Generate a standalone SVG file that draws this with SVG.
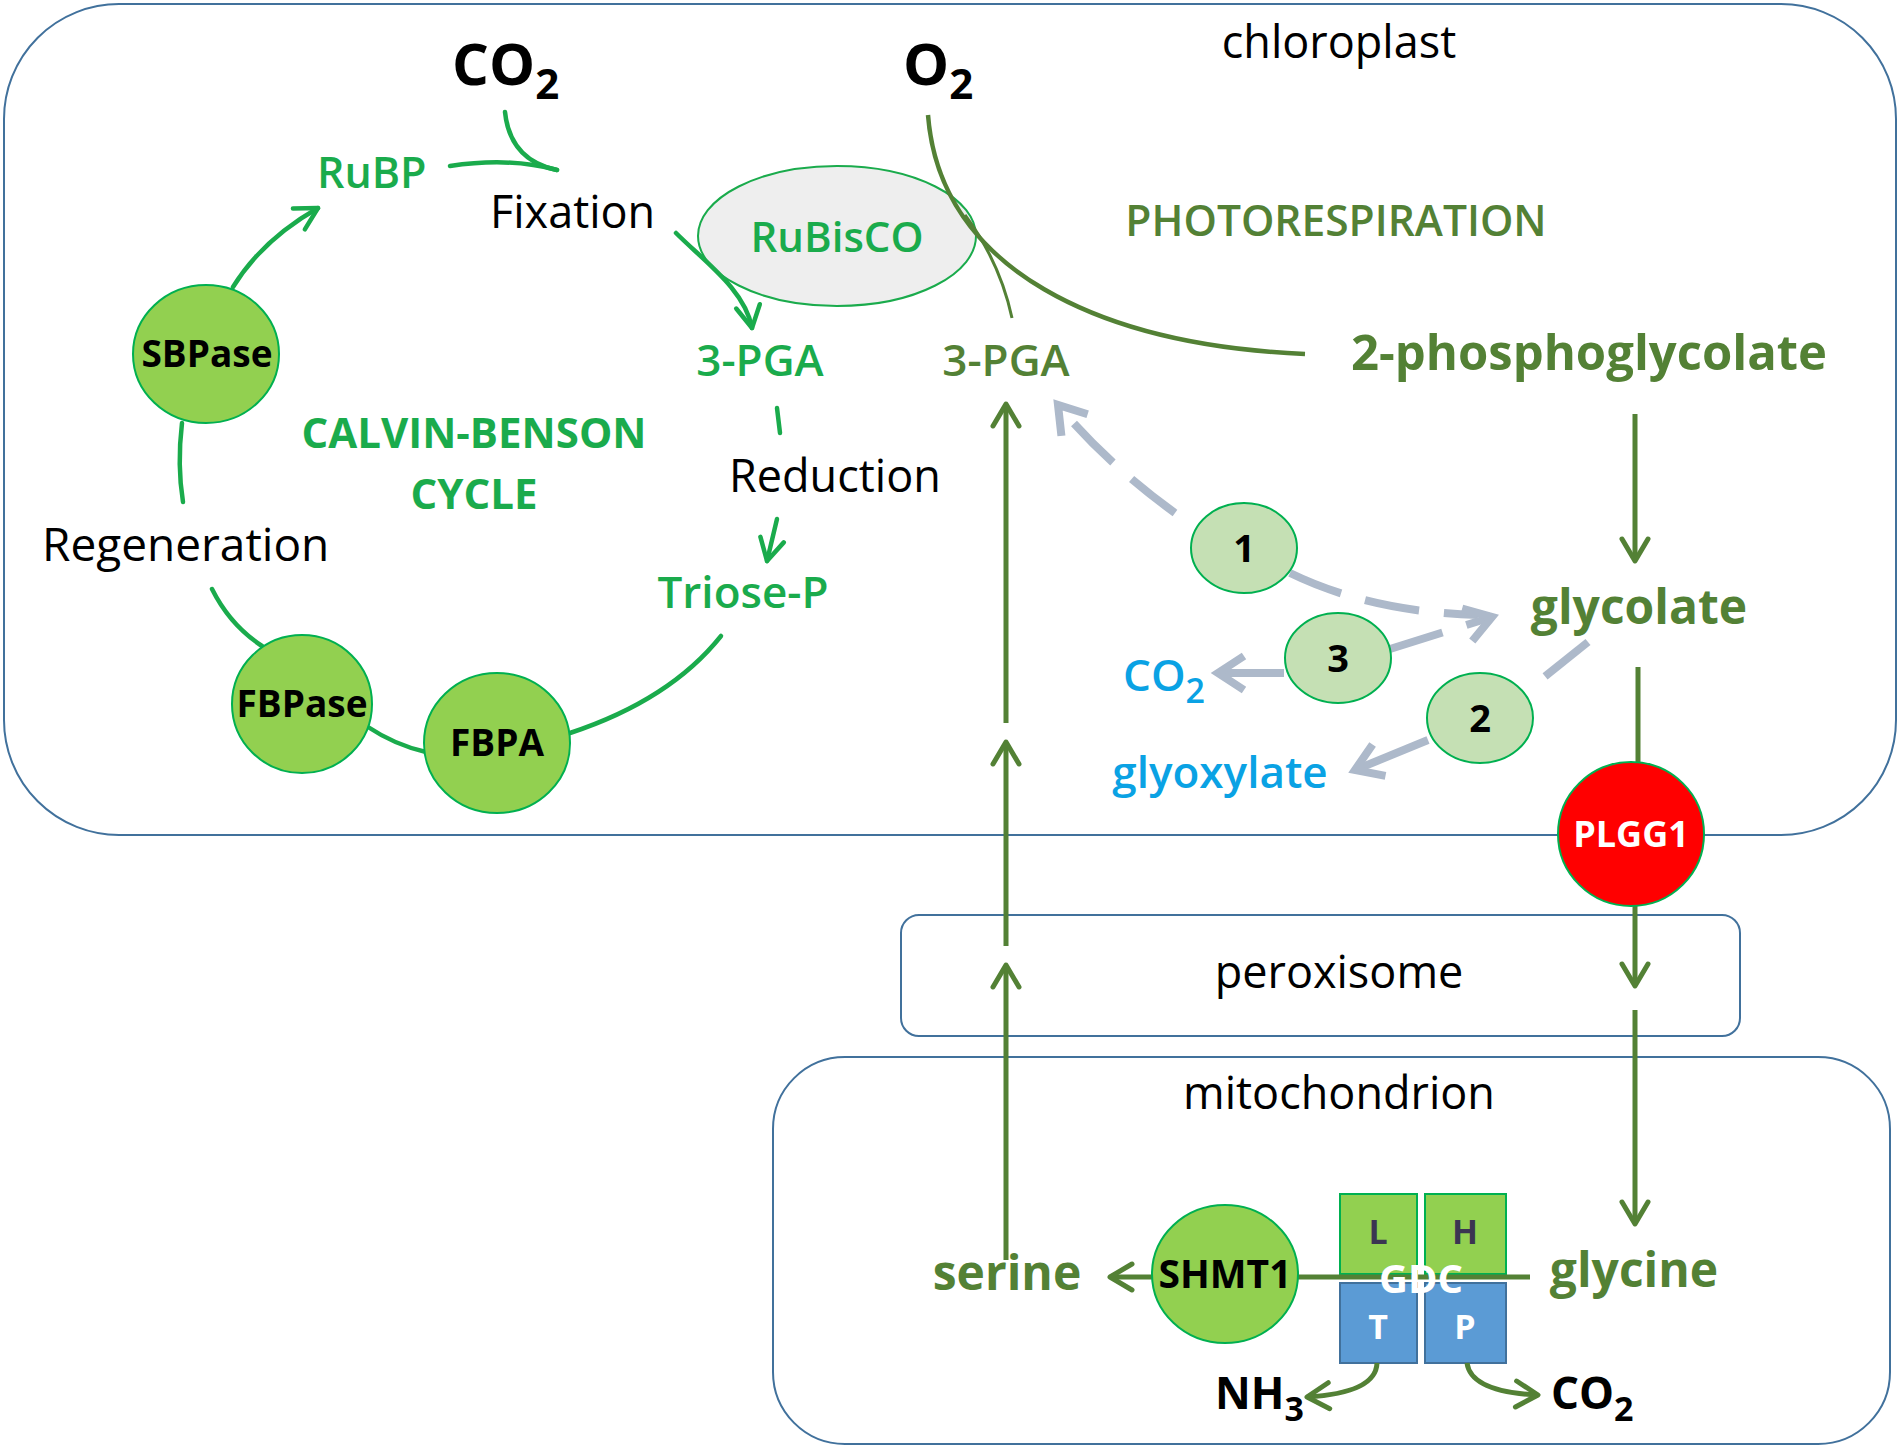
<svg xmlns="http://www.w3.org/2000/svg" width="1900" height="1449" viewBox="0 0 1900 1449">
<defs>
<style>
text{font-family:"Open Sans","Liberation Sans",Arial,sans-serif}
.blk{fill:#000;font-size:45px}
.cg{fill:#1aab4c;font-weight:600}
.dg{fill:#538135;font-weight:700}
.blue{fill:#0aa2e4;font-weight:600}
.enz{fill:#92d050;stroke:#00b050;stroke-width:2}
.lt{fill:#c5e0b4;stroke:#00b050;stroke-width:2}
.etx{font-weight:700;font-size:37px;fill:#000;text-anchor:middle}
.mid{text-anchor:middle}
.box{fill:none;stroke:#41719c;stroke-width:2}
.cl{fill:none;stroke:#1aab4c;stroke-width:4.5;stroke-linecap:round}
.dl{fill:none;stroke:#538135;stroke-width:5;stroke-linecap:butt}
.gl{fill:none;stroke:#adb9ca;stroke-width:8;stroke-dasharray:55 25}
.gs{fill:none;stroke:#adb9ca;stroke-width:8}
</style>
<marker id="ag" viewBox="0 0 26 28" refX="24" refY="14" markerWidth="26" markerHeight="28" markerUnits="userSpaceOnUse" orient="auto" overflow="visible">
<path d="M2,2 L24,14 L2,26" fill="none" stroke="#1aab4c" stroke-width="4.5" stroke-linecap="round" stroke-linejoin="round"/>
</marker>
<marker id="ad" viewBox="0 0 26 30" refX="24" refY="15" markerWidth="26" markerHeight="30" markerUnits="userSpaceOnUse" orient="auto" overflow="visible">
<path d="M2,2 L24,15 L2,28" fill="none" stroke="#538135" stroke-width="5" stroke-linecap="round" stroke-linejoin="round"/>
</marker>
<marker id="ay" viewBox="0 0 32 40" refX="29" refY="20" markerWidth="32" markerHeight="40" markerUnits="userSpaceOnUse" orient="auto" overflow="visible">
<path d="M3,3 L29,20 L3,37" fill="none" stroke="#adb9ca" stroke-width="8" stroke-linecap="butt" stroke-linejoin="miter"/>
</marker>
</defs>
<rect width="1900" height="1449" fill="#fff"/>

<g id="compartments">
<rect id="chloroplast" x="4" y="4" width="1892" height="831" rx="115" ry="115" class="box"/>
<rect id="peroxisome" x="901" y="915" width="839" height="121" rx="18" ry="18" class="box"/>
<rect id="mitochondrion" x="773" y="1057" width="1117" height="387" rx="72" ry="72" class="box"/>
</g>

<g id="labels">
<text x="1339" y="58" class="blk mid">chloroplast</text>
<text x="1339" y="988" class="blk mid">peroxisome</text>
<text x="1339" y="1109" class="blk mid">mitochondrion</text>
<text x="1336" y="236" class="mid" style="fill:#538135;font-weight:600;font-size:42.5px">PHOTORESPIRATION</text>
<text x="474" y="448" class="cg mid" style="font-size:42px;font-weight:700">CALVIN-BENSON</text>
<text x="474" y="509" class="cg mid" style="font-size:42px;font-weight:700">CYCLE</text>
<text x="490" y="228" class="blk">Fixation</text>
<text x="729" y="492" class="blk">Reduction</text>
<text x="42" y="561" class="blk" style="font-size:46px">Regeneration</text>
</g>

<g id="rubisco">
<ellipse cx="837" cy="236" rx="139" ry="70" fill="#eeeeee" stroke="#1aab4c" stroke-width="2"/>
</g>

<g id="gdc">
<rect x="1340" y="1194" width="77" height="80" fill="#92d050" stroke="#00b050" stroke-width="2"/>
<rect x="1425" y="1194" width="81" height="80" fill="#92d050" stroke="#00b050" stroke-width="2"/>
<rect x="1340" y="1283" width="77" height="80" fill="#5b9bd5" stroke="#41719c" stroke-width="2"/>
<rect x="1425" y="1283" width="81" height="80" fill="#5b9bd5" stroke="#41719c" stroke-width="2"/>
<text x="1378" y="1244" class="mid" style="font-size:34px;font-weight:700;fill:#3b3552">L</text>
<text x="1465" y="1244" class="mid" style="font-size:34px;font-weight:700;fill:#3b3552">H</text>
<text x="1378" y="1339" class="mid" style="font-size:34px;font-weight:700;fill:#fff">T</text>
<text x="1465" y="1339" class="mid" style="font-size:34px;font-weight:700;fill:#fff">P</text>
</g>

<g id="connectors">
<path class="cl" d="M450,166 Q510,157 557,170"/>
<path class="cl" d="M505,112 Q510,160 557,170"/>
<path class="cl" d="M676,233 C705,262 745,290 752,328" marker-end="url(#ag)"/>
<path class="cl" d="M777,408 L780,433"/>
<path class="cl" d="M777,519 L767,561" marker-end="url(#ag)"/>
<path class="cl" d="M570,733 Q670,700 721,636"/>
<path class="cl" d="M368,727 Q395,745 426,752"/>
<path class="cl" d="M212,589 Q230,625 262,646"/>
<path class="cl" d="M182,423 Q177,465 183,502"/>
<path class="cl" d="M233,287 Q262,240 318,208" marker-end="url(#ag)"/>
<path d="M928,115 C940,270 1100,345 1305,354" fill="none" stroke="#538135" stroke-width="4.5"/>
<path d="M965,215 Q1000,262 1012,318" fill="none" stroke="#538135" stroke-width="3"/>
<path class="dl" d="M1635,414 L1635,561" marker-end="url(#ad)"/>
<path class="dl" d="M1638,667 L1638,764"/>
<path class="dl" d="M1635,905 L1635,986" marker-end="url(#ad)"/>
<path class="dl" d="M1635,1010 L1635,1224" marker-end="url(#ad)"/>
<path class="dl" d="M1530,1277 L1110,1277" marker-end="url(#ad)"/>
<path class="dl" d="M1006,1260 L1006,965" marker-end="url(#ad)"/>
<path class="dl" d="M1006,946 L1006,742" marker-end="url(#ad)"/>
<path class="dl" d="M1006,723 L1006,404" marker-end="url(#ad)"/>
<path class="dl" d="M1377,1363 Q1376,1393 1307,1397" marker-end="url(#ad)"/>
<path class="dl" d="M1467,1363 Q1471,1392 1538,1395" marker-end="url(#ad)"/>
<path class="gl" d="M1175,513 Q1105,462 1058,405" marker-end="url(#ay)"/>
<path class="gl" d="M1290,573 Q1370,612 1478,615"/>
<path class="gl" d="M1390,649 L1492,617" marker-end="url(#ay)"/>
<path class="gs" d="M1284,673 L1218,673" marker-end="url(#ay)"/>
<path class="gl" d="M1588,642 L1528,690"/>
<path class="gs" d="M1428,740 L1355,770" marker-end="url(#ay)"/>
</g>

<g id="gdc-label">
<text x="1421" y="1293" class="mid" style="font-size:40px;font-weight:700;fill:#fff">GDC</text>
</g>

<g id="rubisco-label"><text x="837" y="252" class="cg mid" style="font-size:42px">RuBisCO</text></g>

<g id="co2-in"><text x="452" y="85" style="font-size:58px;font-weight:700;fill:#000">CO<tspan font-size="42" dy="14">2</tspan></text></g>
<g id="o2-in"><text x="903" y="85" style="font-size:58px;font-weight:700;fill:#000">O<tspan font-size="42" dy="14">2</tspan></text></g>
<g id="rubp"><text x="317" y="188" class="cg" style="font-size:43px">RuBP</text></g>
<g id="pga-calvin"><text x="760" y="376" class="cg mid" style="font-size:44px">3-PGA</text></g>
<g id="pga-photo"><text x="1006" y="376" class="mid" style="font-size:44px;fill:#538135;font-weight:600">3-PGA</text></g>
<g id="triose-p"><text x="743" y="608" class="cg mid" style="font-size:44px">Triose-P</text></g>
<g id="phosphoglycolate"><text x="1589" y="370" class="dg mid" style="font-size:49px">2-phosphoglycolate</text></g>
<g id="glycolate"><text x="1639" y="624" class="dg mid" style="font-size:48px">glycolate</text></g>
<g id="co2-bypass"><text x="1123" y="691" class="blue" style="font-size:44px">CO<tspan font-size="34" dy="12">2</tspan></text></g>
<g id="glyoxylate"><text x="1220" y="788" class="blue mid" style="font-size:44px">glyoxylate</text></g>
<g id="serine"><text x="1007" y="1290" class="dg mid" style="font-size:48px">serine</text></g>
<g id="glycine"><text x="1634" y="1287" class="dg mid" style="font-size:48px">glycine</text></g>
<g id="nh3"><text x="1215" y="1409" style="font-size:44px;font-weight:700;fill:#000">NH<tspan font-size="34" dy="12">3</tspan></text></g>
<g id="co2-out"><text x="1551" y="1409" style="font-size:44px;font-weight:700;fill:#000">CO<tspan font-size="34" dy="12">2</tspan></text></g>

<g id="sbpase"><ellipse cx="206" cy="354" rx="73" ry="69" class="enz"/><text x="207" y="367" class="etx">SBPase</text></g>
<g id="fbpase"><ellipse cx="302" cy="704" rx="70" ry="69" class="enz"/><text x="302" y="717" class="etx">FBPase</text></g>
<g id="fbpa"><ellipse cx="497" cy="743" rx="73" ry="70" class="enz"/><text x="497" y="756" class="etx">FBPA</text></g>
<g id="shmt1"><ellipse cx="1225" cy="1274" rx="73" ry="69" class="enz"/><text x="1225" y="1288" class="etx" style="font-size:39px">SHMT1</text></g>
<g id="plgg1"><ellipse cx="1631" cy="834" rx="73" ry="72" fill="#ff0000" stroke="#00b050" stroke-width="2"/><text x="1631" y="847" class="etx" style="fill:#fff;font-size:36px">PLGG1</text></g>
<g id="bypass1"><ellipse cx="1244" cy="548" rx="53" ry="45" class="lt"/><text x="1244" y="562" class="etx" style="font-size:38px">1</text></g>
<g id="bypass3"><ellipse cx="1338" cy="658" rx="53" ry="45" class="lt"/><text x="1338" y="672" class="etx" style="font-size:38px">3</text></g>
<g id="bypass2"><ellipse cx="1480" cy="718" rx="53" ry="45" class="lt"/><text x="1480" y="732" class="etx" style="font-size:38px">2</text></g>
</svg>
